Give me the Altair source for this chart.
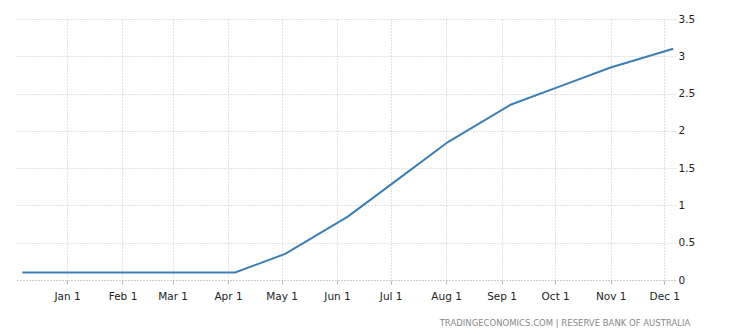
import altair as alt
import pandas as pd

dates = ["2021-12-07", "2022-02-01", "2022-03-01", "2022-04-05", "2022-05-03",
         "2022-06-07", "2022-07-05", "2022-08-02", "2022-09-06", "2022-10-04",
         "2022-11-01", "2022-12-06"]
rates = [0.10, 0.10, 0.10, 0.10, 0.35, 0.85, 1.35, 1.85, 2.35, 2.60, 2.85, 3.10]
tick_dates = ["2022-01-01", "2022-02-01", "2022-03-01", "2022-04-01", "2022-05-01",
              "2022-06-01", "2022-07-01", "2022-08-01", "2022-09-01", "2022-10-01",
              "2022-11-01", "2022-12-01"]
y_ticks = [0, 0.5, 1, 1.5, 2, 2.5, 3, 3.5]
source = "TRADINGECONOMICS.COM  |  RESERVE BANK OF AUSTRALIA"

df = pd.DataFrame({"date": pd.to_datetime(dates), "rate": rates})
tick_vals = [alt.DateTime(year=int(d[:4]), month=int(d[5:7]), date=1) for d in tick_dates]

FONT = "DejaVu Sans"

line = alt.Chart(df).mark_line(color="#3d7eb3", strokeWidth=2).encode(
    x=alt.X("date:T",
            scale=alt.Scale(domain=[alt.DateTime(year=2021, month=12, date=4),
                                    alt.DateTime(year=2022, month=12, date=7)]),
            axis=alt.Axis(values=tick_vals, format="%b %-d", title=None,
                          grid=True, gridColor="#c4c4c4", gridDash=[1, 2],
                          domainColor="#b8b8b8", domainDash=[1, 2],
                          tickColor="#b8b8b8", tickSize=4,
                          labelFont=FONT, labelFontSize=10.5, labelColor="#222222",
                          labelPadding=7)),
    y=alt.Y("rate:Q",
            scale=alt.Scale(domain=[0, 3.5], nice=False),
            axis=alt.Axis(orient="right", values=y_ticks, title=None, format="~g",
                          grid=True, gridColor="#c4c4c4", gridDash=[1, 2],
                          domain=False, ticks=False, labelPadding=3,
                          labelFont=FONT, labelFontSize=10.5, labelColor="#222222",
                          labelFlush=False)),
)

src = alt.Chart(pd.DataFrame({"t": [source]})).mark_text(
    font=FONT, fontSize=8.5, color="#888888", align="center", baseline="middle"
).encode(text="t:N", x=alt.value(548), y=alt.value(304))

chart = alt.layer(line, src).properties(
    width=658, height=261,
    background="white",
    padding={"left": 17, "top": 19, "right": 74, "bottom": 54},
    autosize=alt.AutoSizeParams(type="none"),
).configure_view(stroke="transparent", strokeWidth=0)

chart.save("out.html", embed_options={"renderer": "svg", "actions": False})
